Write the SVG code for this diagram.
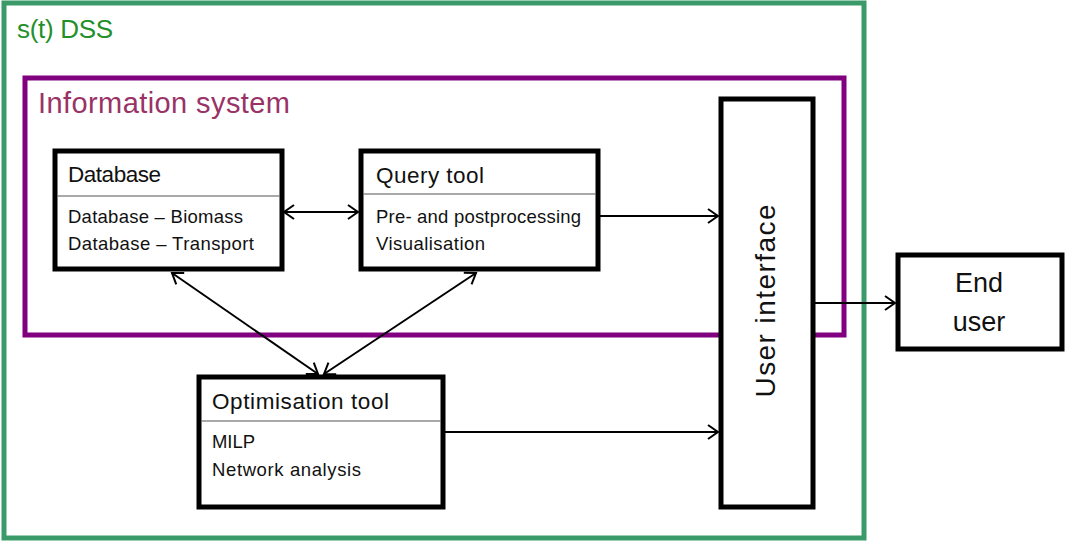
<svg xmlns="http://www.w3.org/2000/svg" width="1065" height="542" viewBox="0 0 1065 542">
  <style>
    .box { fill: #ffffff; stroke: #000000; stroke-width: 5; }
    .div { stroke: #555555; stroke-width: 1.2; }
    .t { font-family: "Liberation Sans", Arial, sans-serif; fill: #111111; }
    .title { font-size: 22.5px; }
    .body { font-size: 18.5px; }
    .link { fill: none; stroke: #000000; stroke-width: 2; }
  </style>
  <defs>
    <marker id="arrow" markerUnits="userSpaceOnUse" markerWidth="24" markerHeight="24" refX="0" refY="0" viewBox="-12 -12 24 24" orient="auto-start-reverse" overflow="visible">
      <path d="M-10,-7 L0,0 L-10,7" fill="none" stroke="#000000" stroke-width="2"/>
    </marker>
  </defs>

  <rect width="1065" height="542" fill="#ffffff"/>

  <!-- s(t) DSS container -->
  <g id="dss">
    <rect x="4" y="3" width="860" height="535" fill="none" stroke="#3a9a6a" stroke-width="5"/>
    <text x="17" y="38" font-family="Liberation Sans, Arial, sans-serif" font-size="26" fill="#23902a" textLength="96">s(t) DSS</text>
  </g>

  <!-- Information system container -->
  <g id="information-system">
    <rect x="25" y="78" width="819" height="257" fill="none" stroke="#800080" stroke-width="5"/>
    <text x="38" y="113" font-family="Liberation Sans, Arial, sans-serif" font-size="29" fill="#993366" textLength="252">Information system</text>
  </g>

  <!-- Database -->
  <g id="database">
    <rect class="box" x="55" y="151" width="227" height="118"/>
    <line class="div" x1="57.5" y1="196" x2="279.5" y2="196"/>
    <text class="t title" x="68" y="182" textLength="93">Database</text>
    <text class="t body" x="68" y="223" textLength="175">Database – Biomass</text>
    <text class="t body" x="68" y="250" textLength="186">Database – Transport</text>
  </g>

  <!-- Query tool -->
  <g id="query-tool">
    <rect class="box" x="361" y="151" width="237" height="118"/>
    <line class="div" x1="363.5" y1="194" x2="595.5" y2="194"/>
    <text class="t title" x="376" y="183" textLength="108">Query tool</text>
    <text class="t body" x="376" y="223" textLength="205">Pre- and postprocessing</text>
    <text class="t body" x="376" y="250" textLength="109">Visualisation</text>
  </g>

  <!-- Optimisation tool -->
  <g id="optimisation-tool">
    <rect class="box" x="199" y="377" width="244" height="130"/>
    <line class="div" x1="201.5" y1="421" x2="440.5" y2="421"/>
    <text class="t title" x="212" y="409" textLength="177">Optimisation tool</text>
    <text class="t body" x="212" y="448" textLength="43">MILP</text>
    <text class="t body" x="212" y="476" textLength="149">Network analysis</text>
  </g>

  <!-- User interface -->
  <g id="user-interface">
    <rect class="box" x="721" y="99" width="92" height="408"/>
    <text class="t" x="0" y="0" font-size="28" text-anchor="middle" textLength="193" transform="translate(775,301) rotate(-90)">User interface</text>
  </g>

  <!-- End user -->
  <g id="end-user">
    <rect class="box" x="898" y="255" width="164" height="94"/>
    <text class="t" x="979" y="292" font-size="27" text-anchor="middle">End</text>
    <text class="t" x="979" y="331" font-size="27" text-anchor="middle">user</text>
  </g>

  <!-- Connectors -->
  <g id="connectors">
    <line class="link" x1="284" y1="212" x2="358" y2="212" marker-start="url(#arrow)" marker-end="url(#arrow)"/>
    <line class="link" x1="600" y1="216" x2="718" y2="216" marker-end="url(#arrow)"/>
    <line class="link" x1="445" y1="432" x2="718" y2="432" marker-end="url(#arrow)"/>
    <line class="link" x1="815" y1="303" x2="895" y2="303" marker-end="url(#arrow)"/>
    <line class="link" x1="172" y1="273" x2="318" y2="374" marker-start="url(#arrow)" marker-end="url(#arrow)"/>
    <line class="link" x1="476" y1="273" x2="324" y2="374" marker-start="url(#arrow)" marker-end="url(#arrow)"/>
  </g>
</svg>
